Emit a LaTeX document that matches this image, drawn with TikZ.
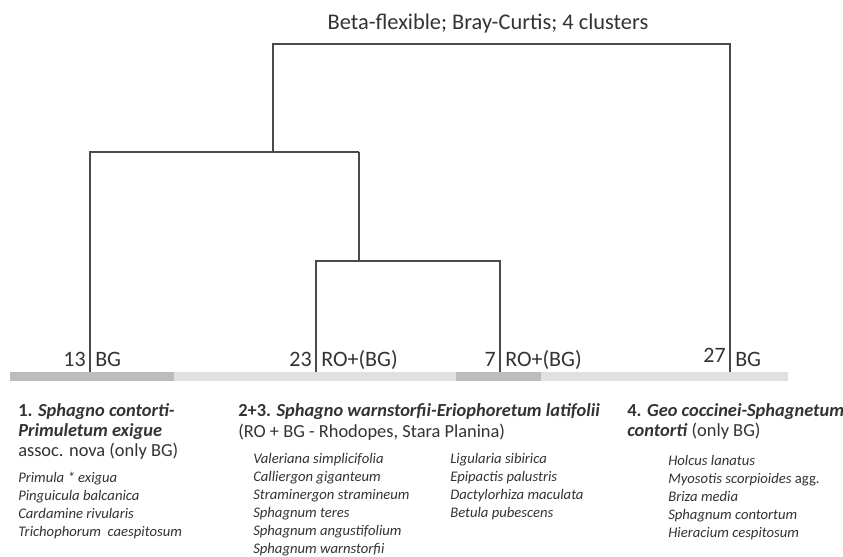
\documentclass[tikz,border=0pt]{standalone}
\usepackage{fontspec}
\setmainfont{Carlito}
\definecolor{linegray}{HTML}{4A4A4A}
\definecolor{textgray}{HTML}{333333}
\definecolor{bardark}{HTML}{BCBCBF}
\definecolor{barlight}{HTML}{E0E0E2}
\begin{document}
\begin{tikzpicture}[x=0.75pt,y=-0.75pt,
  link/.style={draw=linegray,line width=1.1pt},
  leaflab/.style={font=\fontsize{16.5}{18}\selectfont,text=textgray,inner sep=0pt},
  clhead/.style={font=\fontsize{13.8}{16}\selectfont,text=textgray,inner sep=0pt,anchor=base west},
  species/.style={font=\fontsize{11}{13}\selectfont\itshape,text=textgray,inner sep=0pt,anchor=base west},
  titlelab/.style={font=\fontsize{16.8}{18}\selectfont,text=textgray,inner sep=0pt,anchor=base}]
\useasboundingbox (0,0) rectangle (843,557);
\fill[white] (0,0) rectangle (843,557);
% bar
\fill[barlight] (10,372) rectangle (788,381);
\fill[bardark] (10,372) rectangle (174,381);
\fill[bardark] (456,372) rectangle (541,381);
% title
\node[titlelab] (title) at (488,29) {Beta-flexible; Bray-Curtis; 4 clusters};
% leaves
\coordinate (l1) at (90,372);
\coordinate (l2) at (316,372);
\coordinate (l3) at (500,372);
\coordinate (l4) at (730,372);
% joins
\coordinate (j23) at (359,261);
\coordinate (j123) at (273,152);
\coordinate (jroot) at (273,44);
\draw[link] (l2) |- (j23) -| (l3);
\draw[link] (j23) -- (j23 |- j123);
\draw[link] (l1) |- (j123) -- (j23 |- j123);
\draw[link] (j123) -- (jroot) -- (jroot -| l4) -- (l4);
% leaf labels
\node[leaflab,anchor=base east] (n1) at (86,366) {13};
\node[leaflab,anchor=base west] (r1) at (95,366) {BG};
\node[leaflab,anchor=base east] (n2) at (312,366) {23};
\node[leaflab,anchor=base west] (r2) at (321,366) {RO+(BG)};
\node[leaflab,anchor=base east] (n3) at (496,366) {7};
\node[leaflab,anchor=base west] (r3) at (505,366) {RO+(BG)};
\node[leaflab,anchor=base east] (n4) at (726,362) {27};
\node[leaflab,anchor=base west] (r4) at (735,366) {BG};
% cluster 1
\node[clhead] (h1a) at (18,416) {\textbf{1. \textit{Sphagno contorti-}}};
\node[clhead] (h1b) at (18,436) {\textbf{\textit{Primuletum exigue}}};
\node[clhead] (h1c) at (18,456) {assoc. nova (only BG)};
\foreach \t [count=\i from 0] in {Primula * exigua, Pinguicula balcanica, Cardamine rivularis, Trichophorum\ \ caespitosum}
  \node[species] (s1-\i) at (18,482+18*\i) {\t};
% cluster 2+3
\node[clhead] (h2a) at (238,416) {\textbf{2+3. \textit{Sphagno warnstorfii-Eriophoretum latifolii}}};
\node[clhead] (h2b) at (238,437) {(RO + BG - Rhodopes, Stara Planina)};
\foreach \t [count=\i from 0] in {Valeriana simplicifolia, Calliergon giganteum, Straminergon stramineum, Sphagnum teres, Sphagnum angustifolium, Sphagnum warnstorfii}
  \node[species] (s2-\i) at (253,463+18*\i) {\t};
\foreach \t [count=\i from 0] in {Ligularia sibirica, Epipactis palustris, Dactylorhiza maculata, Betula pubescens}
  \node[species] (s3-\i) at (450,463+18*\i) {\t};
% cluster 4
\node[clhead] (h4a) at (627,416) {\textbf{4. \textit{Geo coccinei-Sphagnetum}}};
\node[clhead] (h4b) at (627,436) {\textbf{\textit{contorti}} (only BG)};
\foreach \t [count=\i from 0] in {Holcus lanatus, Myosotis scorpioides \textup{agg.}, Briza media, Sphagnum contortum, Hieracium cespitosum}
  \node[species] (s4-\i) at (668,465+18*\i) {\t};
\end{tikzpicture}
\end{document}
